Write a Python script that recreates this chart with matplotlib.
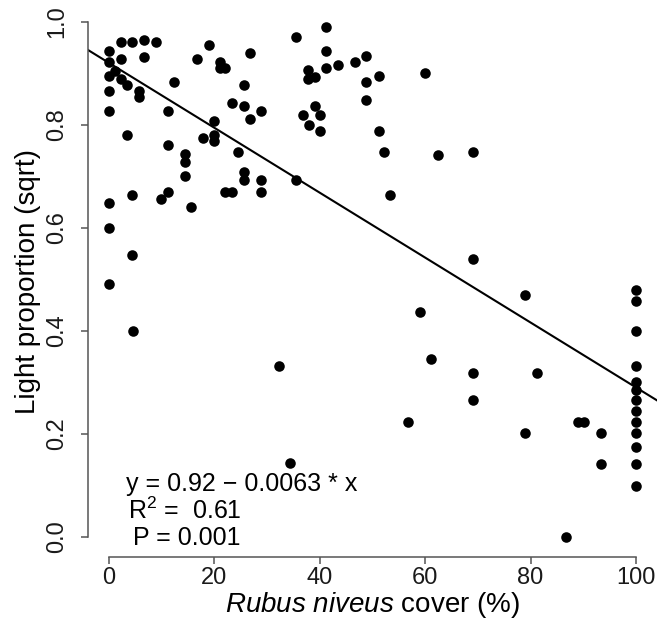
import matplotlib
matplotlib.use("Agg")
import matplotlib.pyplot as plt

# Rubus niveus cover (%) and sqrt light proportion
cover_pct = [0, 0, 0, 1.1, 0, 0, 2.2, 2.2, 4.4, 6.6, 8.9, 6.6, 2.2, 3.4, 5.6, 5.6,
             3.4, 0, 0, 4.4, 4.4, 0, 11.2, 12.3, 11.2, 14.4, 14.4, 14.4, 11.2, 9.8,
             15.5, 16.6, 18.9, 21.1, 21.1, 22.1, 26.8, 25.6, 23.3, 25.6, 28.9, 26.8,
             20.0, 20.0, 20.0, 17.9, 24.5, 25.6, 25.6, 28.9, 28.9, 22.1, 23.3,
             35.5, 41.1, 41.1, 37.8, 37.8, 39.0, 41.1, 43.5, 46.7, 48.8, 48.8, 51.2,
             48.8, 60.0, 39.0, 36.8, 40.0, 37.9, 40.0, 51.2, 52.2, 62.4, 69.0, 35.5,
             53.4, 69.0, 4.5, 32.3, 34.3, 79.0, 59.0, 61.1, 69.1, 69.1, 56.8, 81.2,
             79.0, 89.1, 90.2, 93.4, 93.4, 86.7,
             100, 100, 100, 100, 100, 100, 100, 100, 100, 100, 100, 100, 100]
light_sqrt = [0.944, 0.922, 0.894, 0.905, 0.866, 0.826, 0.960, 0.927, 0.960, 0.964,
              0.960, 0.932, 0.889, 0.877, 0.866, 0.854, 0.781, 0.649, 0.600, 0.663,
              0.547, 0.490, 0.826, 0.883, 0.761, 0.743, 0.728, 0.700, 0.670, 0.656,
              0.641, 0.927, 0.955, 0.922, 0.911, 0.911, 0.939, 0.877, 0.842, 0.836,
              0.826, 0.812, 0.807, 0.781, 0.768, 0.774, 0.748, 0.708, 0.693, 0.693,
              0.670, 0.670, 0.670,
              0.970, 0.989, 0.944, 0.906, 0.888, 0.893, 0.910, 0.916, 0.922, 0.933,
              0.883, 0.894, 0.848, 0.900, 0.837, 0.818, 0.818, 0.799, 0.787, 0.787,
              0.748, 0.741, 0.748, 0.693, 0.663, 0.539, 0.400, 0.331, 0.143, 0.469,
              0.436, 0.346, 0.317, 0.265, 0.223, 0.317, 0.201, 0.223, 0.223, 0.201,
              0.141, 0.0,
              0.479, 0.458, 0.399, 0.331, 0.301, 0.285, 0.265, 0.245, 0.223, 0.201,
              0.174, 0.142, 0.099]

intercept = 0.92
slope = -0.0063
x_ticks = [0, 20, 40, 60, 80, 100]
y_ticks = [0.0, 0.2, 0.4, 0.6, 0.8, 1.0]

plt.rcParams['font.family'] = ['Liberation Sans', 'DejaVu Sans']
plt.rcParams['mathtext.fontset'] = 'custom'
plt.rcParams['mathtext.rm'] = 'Liberation Sans'
plt.rcParams['mathtext.it'] = 'Liberation Sans:italic'

fig = plt.figure(figsize=(6.62, 6.36), dpi=100)
ax = fig.add_axes([0.1329, 0.1237, 0.8595, 0.8664])

ax.plot(cover_pct, light_sqrt, 'o', color='black', markersize=7.6,
        markeredgewidth=0, zorder=3)
ax.axline((0, intercept), slope=slope, color='black', linewidth=1.5, zorder=2)

ax.set_xlim(-4, 104)
ax.set_ylim(-0.04, 1.03)

for side in ['top', 'right']:
    ax.spines[side].set_visible(False)
for side in ['left', 'bottom']:
    ax.spines[side].set_color('#555555')
    ax.spines[side].set_linewidth(1.1)
ax.spines['bottom'].set_bounds(0, 100)
ax.spines['left'].set_bounds(0, 1.0)

ax.set_xticks(x_ticks)
ax.set_yticks(y_ticks)
ax.set_xticklabels([str(t) for t in x_ticks])
ax.set_yticklabels(['%.1f' % t for t in y_ticks], rotation=90, va='center')
ax.tick_params(direction='out', length=5, width=1.1, color='#555555',
               labelsize=17, labelcolor='#1a1a1a')
ax.tick_params(axis='y', pad=9)
ax.tick_params(axis='x', pad=2)

ax.set_xlabel(r'$\it{Rubus\ niveus}$ cover (%)', fontsize=20, labelpad=1)
ax.set_ylabel('Light proportion (sqrt)', fontsize=20, labelpad=4)

ax.text(3.2, 0.102, 'y = 0.92 \u2212 0.0063 * x', fontsize=18, va='center', ha='left')
ax.text(3.6, 0.050, 'R$^2$ =  0.61', fontsize=18, va='center', ha='left')
ax.text(4.5, -0.003, 'P = 0.001', fontsize=18, va='center', ha='left')

fig.savefig('out.png', dpi=100)
